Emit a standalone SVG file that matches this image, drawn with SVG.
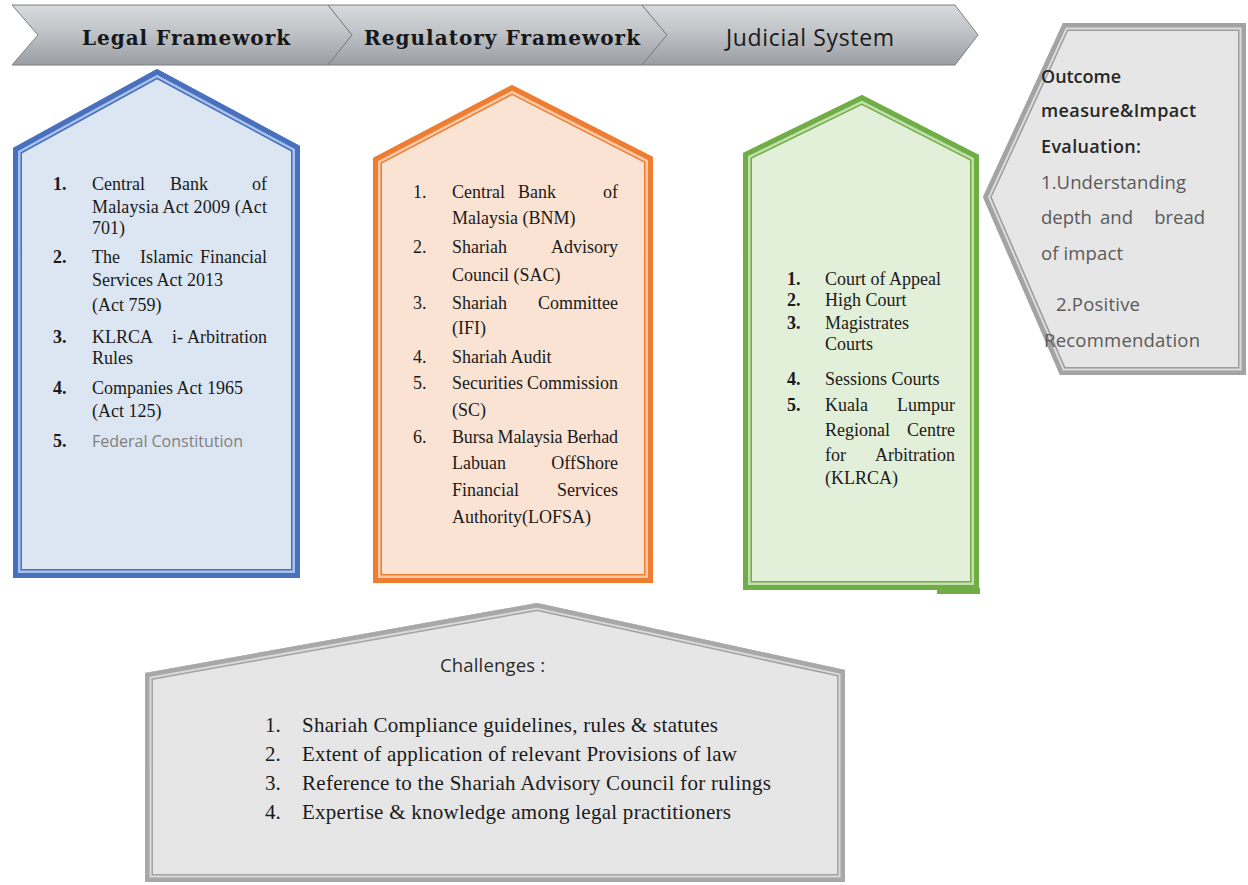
<svg xmlns="http://www.w3.org/2000/svg" width="1248" height="885" viewBox="0 0 1248 885">
<defs>
<linearGradient id="bannerGrad" x1="0" y1="0" x2="0" y2="1">
<stop offset="0" stop-color="#d8dadd"/>
<stop offset="0.45" stop-color="#c0c3c7"/>
<stop offset="1" stop-color="#9a9da2"/>
</linearGradient>
<polygon id="shpBlue" points="13,148 157,69 300,146 300,578 13,578"/>
<polygon id="shpOrange" points="373,158 512,85 653,157 653,583 373,583"/>
<polygon id="shpGreen" points="743,153 862,95 979,155 979,590 743,590"/>
<polygon id="shpOut" points="1063,23 1246,23 1246,375 1060,375 983,197"/>
<polygon id="shpChal" points="145,673 537,603 845,670 845,882 145,882"/>
<clipPath id="clipBlue"><use href="#shpBlue"/></clipPath>
<clipPath id="clipOrange"><use href="#shpOrange"/></clipPath>
<clipPath id="clipGreen"><use href="#shpGreen"/></clipPath>
<clipPath id="clipOut"><use href="#shpOut"/></clipPath>
<clipPath id="clipChal"><use href="#shpChal"/></clipPath>
</defs>
<style>
.seg{fill:url(#bannerGrad);stroke:#7b7e83;stroke-width:1}
.bt{font-family:"DejaVu Serif","Liberation Serif",serif;font-weight:bold;font-size:20px;fill:#15171a}
.bs{font-family:"Open Sans","Liberation Sans",sans-serif;font-size:23px;fill:#1a1a1a}
.t{font-family:"Liberation Serif",serif;font-size:18px;fill:#1a1a1a}
.b{font-weight:bold}
.e{text-anchor:end}
.ct{font-family:"Liberation Serif",serif;font-size:21px;fill:#1a1a1a}
.o{font-family:"Open Sans","Liberation Sans",sans-serif;font-size:18.5px}
.od{fill:#262626;font-weight:600;font-size:18px}
.og{fill:#5a5a5a}
.ln{fill:none;stroke-linejoin:miter}
</style>
<rect width="1248" height="885" fill="#ffffff"/>

<g id="banner">
<polygon class="seg" points="12,5 328,5 352,35 328,65 12,65 38,35"/>
<polygon class="seg" points="328,5 642,5 667,35 642,65 328,65 352,35"/>
<polygon class="seg" points="642,5 955,5 978,35 955,65 642,65 667,35"/>
<text class="bt" x="82" y="45" textLength="208">Legal Framework</text>
<text class="bt" x="364" y="45" textLength="276">Regulatory Framework</text>
<text class="bs" x="726" y="46" textLength="168">Judicial System</text>
</g>

<g id="legal">
<use href="#shpBlue" fill="#dce6f2"/>
<g clip-path="url(#clipBlue)">
<use href="#shpBlue" class="ln" stroke="#4a70bd" stroke-width="18"/>
<use href="#shpBlue" class="ln" stroke="#a7c3ec" stroke-width="15"/>
<use href="#shpBlue" class="ln" stroke="#4a70bd" stroke-width="10"/>
</g>
<text class="t b" x="53" y="190">1.</text>
<text class="t" x="92" y="190">Central</text>
<text class="t" x="170" y="190">Bank</text>
<text class="t e" x="267" y="190">of</text>
<text class="t" x="92" y="213" textLength="175">Malaysia Act 2009 (Act</text>
<text class="t" x="92" y="234">701)</text>
<text class="t b" x="53" y="263">2.</text>
<text class="t" x="92" y="263">The</text>
<text class="t" x="140" y="263">Islamic</text>
<text class="t e" x="267" y="263">Financial</text>
<text class="t" x="92" y="286">Services Act 2013</text>
<text class="t" x="92" y="311">(Act 759)</text>
<text class="t b" x="53" y="343">3.</text>
<text class="t" x="92" y="343">KLRCA</text>
<text class="t" x="172" y="343">i-</text>
<text class="t e" x="267" y="343">Arbitration</text>
<text class="t" x="92" y="364">Rules</text>
<text class="t b" x="53" y="394">4.</text>
<text class="t" x="92" y="394">Companies Act 1965</text>
<text class="t" x="92" y="417">(Act 125)</text>
<text class="t b" x="53" y="447">5.</text>
<text x="92" y="447" font-family="Open Sans, Liberation Sans, sans-serif" font-size="16" fill="#7f7f7f" textLength="151">Federal Constitution</text>
</g>

<g id="regulatory">
<use href="#shpOrange" fill="#fbe3d4"/>
<g clip-path="url(#clipOrange)">
<use href="#shpOrange" class="ln" stroke="#ee7d32" stroke-width="18"/>
<use href="#shpOrange" class="ln" stroke="#f8c9a6" stroke-width="15"/>
<use href="#shpOrange" class="ln" stroke="#ee7d32" stroke-width="10"/>
</g>
<text class="t" x="413" y="198">1.</text>
<text class="t" x="452" y="198">Central</text>
<text class="t" x="518" y="198">Bank</text>
<text class="t e" x="618" y="198">of</text>
<text class="t" x="452" y="224">Malaysia (BNM)</text>
<text class="t" x="413" y="253">2.</text>
<text class="t" x="452" y="253">Shariah</text>
<text class="t e" x="618" y="253">Advisory</text>
<text class="t" x="452" y="281">Council (SAC)</text>
<text class="t" x="413" y="309">3.</text>
<text class="t" x="452" y="309">Shariah</text>
<text class="t e" x="618" y="309">Committee</text>
<text class="t" x="452" y="334">(IFI)</text>
<text class="t" x="413" y="363">4.</text>
<text class="t" x="452" y="363">Shariah Audit</text>
<text class="t" x="413" y="389">5.</text>
<text class="t" x="452" y="389">Securities</text>
<text class="t e" x="618" y="389">Commission</text>
<text class="t" x="452" y="416">(SC)</text>
<text class="t" x="413" y="443">6.</text>
<text class="t" x="452" y="443" textLength="166">Bursa Malaysia Berhad</text>
<text class="t" x="452" y="469">Labuan</text>
<text class="t e" x="618" y="469">OffShore</text>
<text class="t" x="452" y="496">Financial</text>
<text class="t e" x="618" y="496">Services</text>
<text class="t" x="452" y="523">Authority(LOFSA)</text>
</g>

<g id="judicial">
<use href="#shpGreen" fill="#e2efd9"/>
<g clip-path="url(#clipGreen)">
<use href="#shpGreen" class="ln" stroke="#70ad47" stroke-width="18"/>
<use href="#shpGreen" class="ln" stroke="#c2e0ad" stroke-width="15"/>
<use href="#shpGreen" class="ln" stroke="#70ad47" stroke-width="10"/>
</g>
<rect x="937" y="588" width="43" height="6" fill="#70ad47"/>
<text class="t b" x="787" y="285">1.</text>
<text class="t" x="825" y="285">Court of Appeal</text>
<text class="t b" x="787" y="306">2.</text>
<text class="t" x="825" y="306">High Court</text>
<text class="t b" x="787" y="329">3.</text>
<text class="t" x="825" y="329">Magistrates</text>
<text class="t" x="825" y="350">Courts</text>
<text class="t b" x="787" y="385">4.</text>
<text class="t" x="825" y="385">Sessions Courts</text>
<text class="t b" x="787" y="411">5.</text>
<text class="t" x="825" y="411">Kuala</text>
<text class="t e" x="955" y="411">Lumpur</text>
<text class="t" x="825" y="436">Regional</text>
<text class="t e" x="955" y="436">Centre</text>
<text class="t" x="825" y="461">for</text>
<text class="t e" x="955" y="461">Arbitration</text>
<text class="t" x="825" y="484">(KLRCA)</text>
</g>

<g id="outcome">
<use href="#shpOut" fill="#e6e6e6"/>
<g clip-path="url(#clipOut)">
<use href="#shpOut" class="ln" stroke="#9d9d9d" stroke-width="16"/>
<use href="#shpOut" class="ln" stroke="#dcdcdc" stroke-width="13"/>
<use href="#shpOut" class="ln" stroke="#a3a3a3" stroke-width="9"/>
</g>
<text class="o od" x="1041" y="83" textLength="80">Outcome</text>
<text class="o od" x="1041" y="117" textLength="155">measure&amp;Impact</text>
<text class="o od" x="1041" y="153" textLength="100">Evaluation:</text>
<text class="o og" x="1041" y="189" textLength="145">1.Understanding</text>
<text class="o og" x="1041" y="224">depth</text>
<text class="o og" x="1100" y="224">and</text>
<text class="o og" x="1205" y="224" text-anchor="end">bread</text>
<text class="o og" x="1041" y="260" textLength="82">of impact</text>
<text class="o og" x="1056" y="311" textLength="84">2.Positive</text>
<text class="o og" x="1044" y="347" textLength="156">Recommendation</text>
</g>

<g id="challenges">
<use href="#shpChal" fill="#e6e6e6"/>
<g clip-path="url(#clipChal)">
<use href="#shpChal" class="ln" stroke="#a3a3a3" stroke-width="16"/>
<use href="#shpChal" class="ln" stroke="#d9d9d9" stroke-width="13"/>
<use href="#shpChal" class="ln" stroke="#a8a8a8" stroke-width="9"/>
</g>
<text x="440" y="672" font-family="Open Sans, Liberation Sans, sans-serif" font-size="18.5" fill="#2b2b2b" textLength="105">Challenges :</text>
<text class="ct" x="265" y="732">1.</text>
<text class="ct" x="302" y="732" textLength="416">Shariah Compliance guidelines, rules &amp; statutes</text>
<text class="ct" x="265" y="761">2.</text>
<text class="ct" x="302" y="761" textLength="435">Extent of application of relevant Provisions of law</text>
<text class="ct" x="265" y="790">3.</text>
<text class="ct" x="302" y="790" textLength="469">Reference to the Shariah Advisory Council for rulings</text>
<text class="ct" x="265" y="819">4.</text>
<text class="ct" x="302" y="819" textLength="429">Expertise &amp; knowledge among legal practitioners</text>
</g>

<g id="connectors"></g>
</svg>
